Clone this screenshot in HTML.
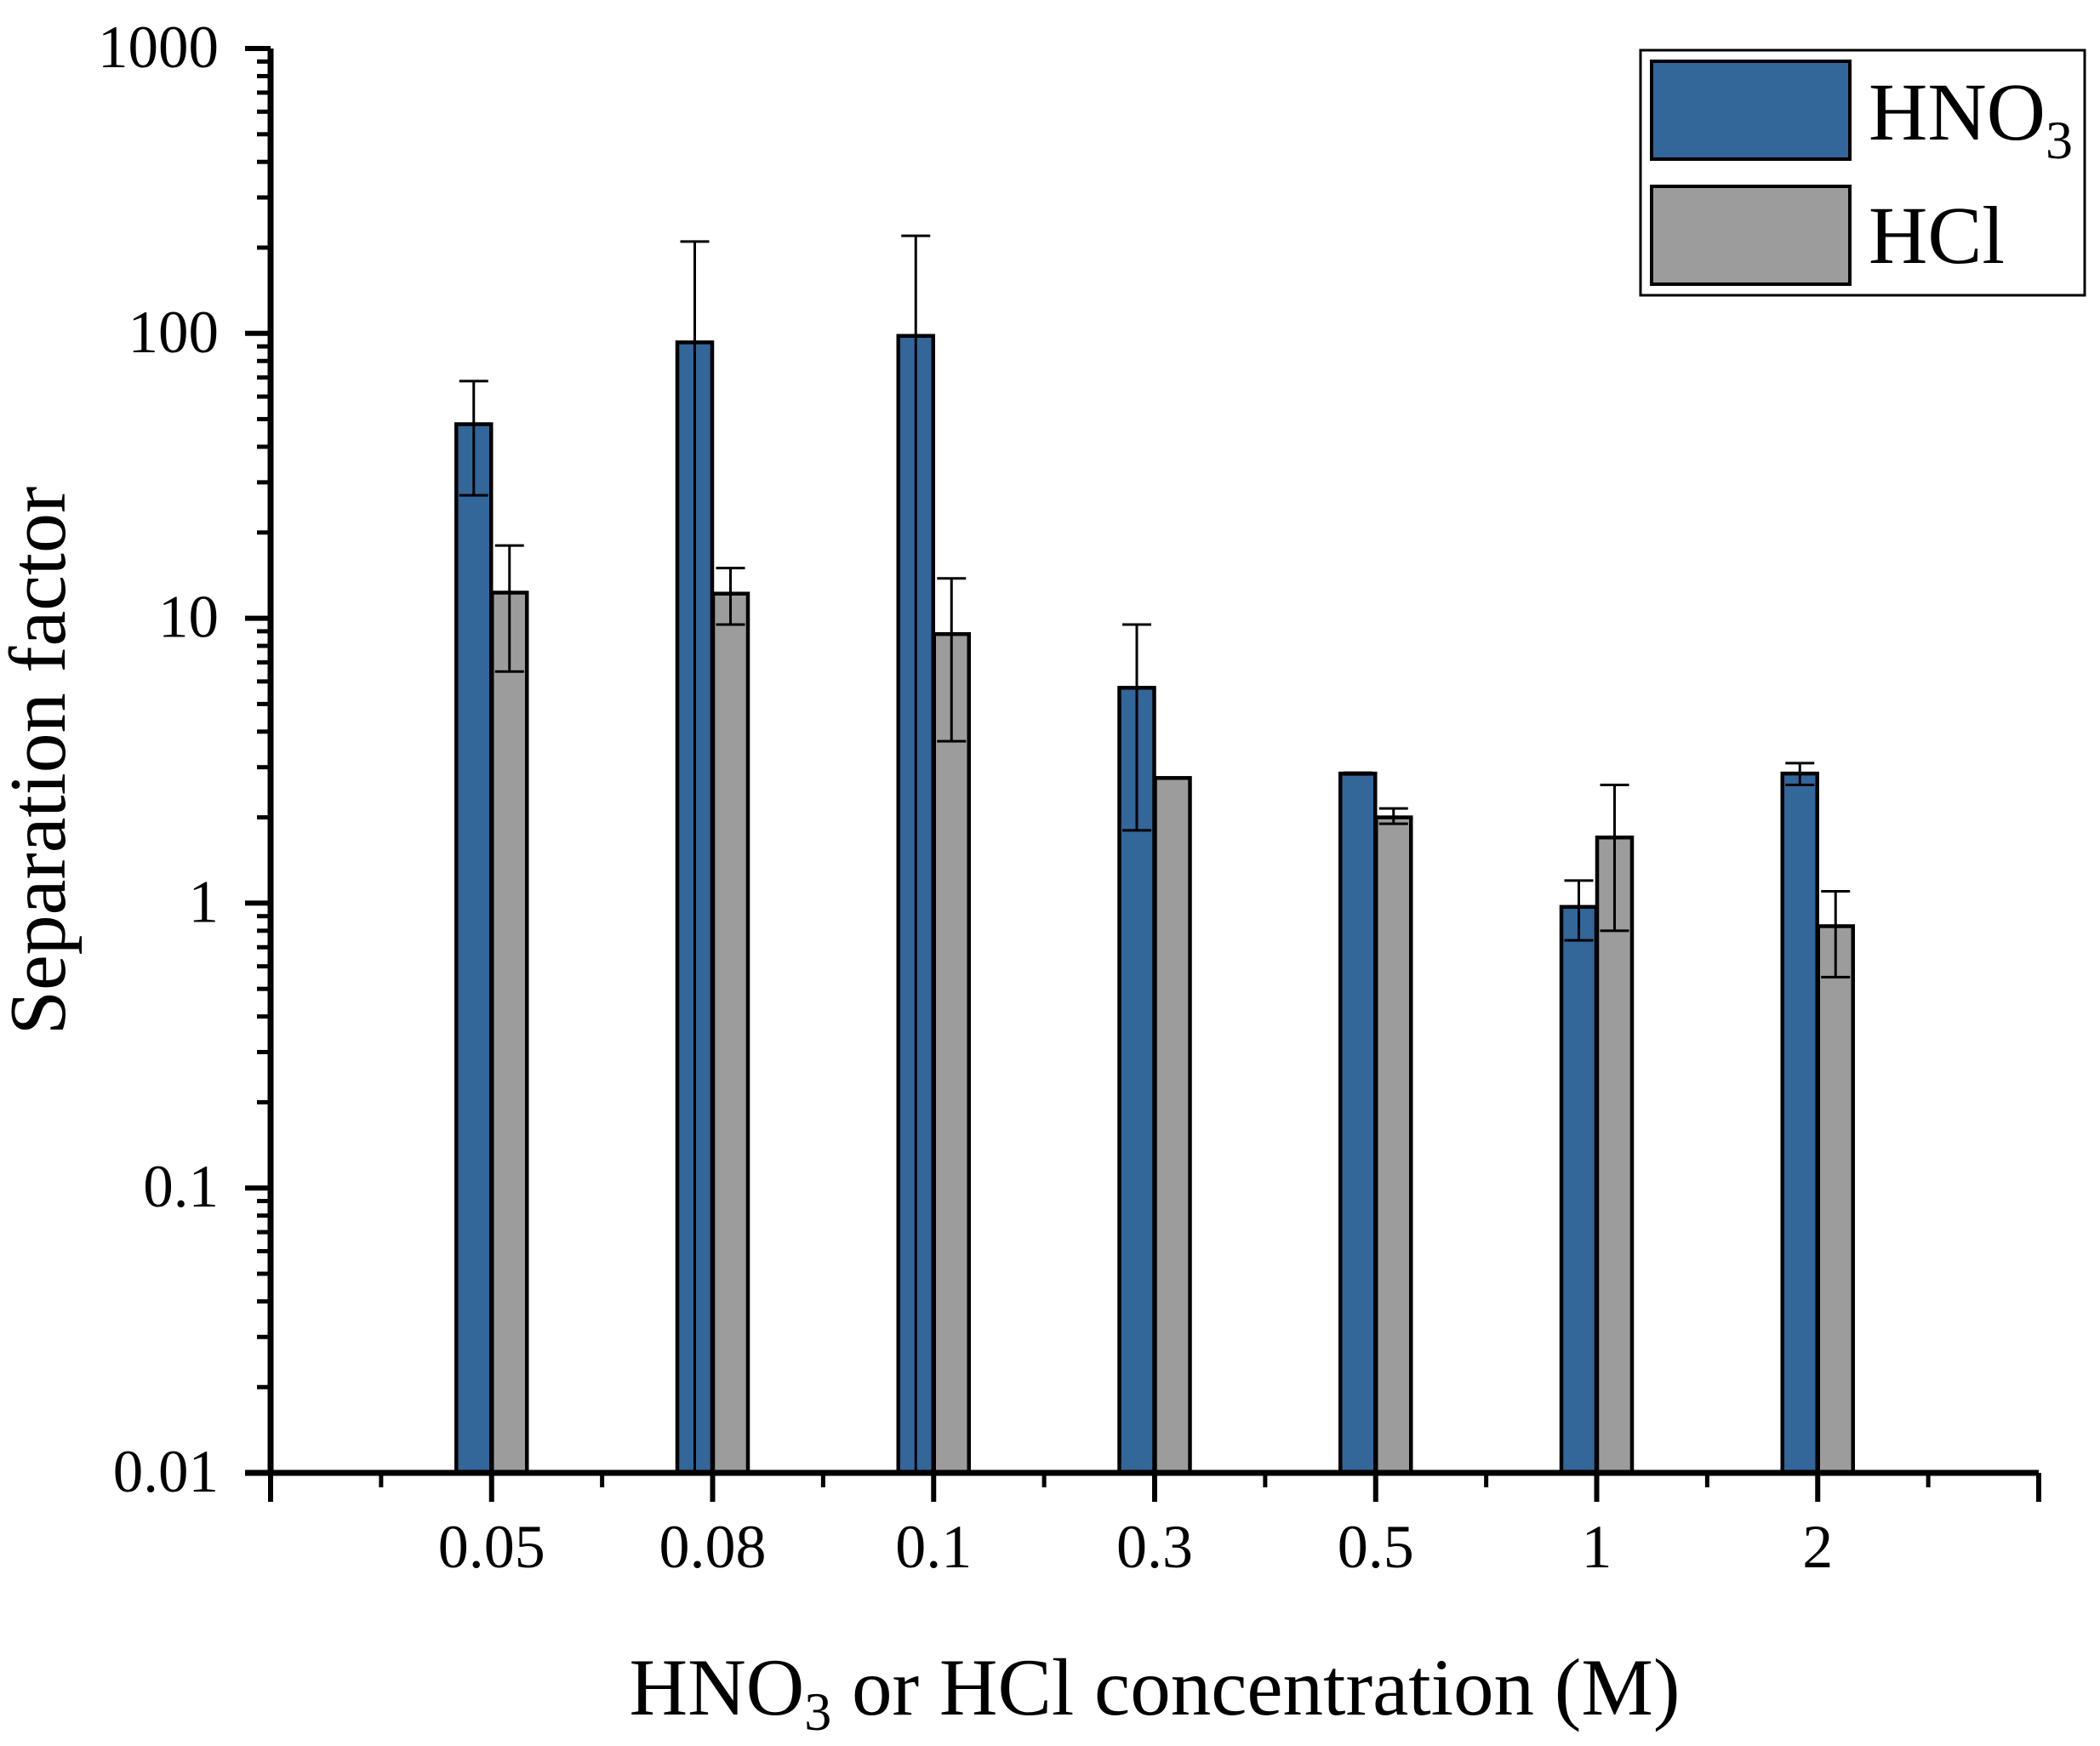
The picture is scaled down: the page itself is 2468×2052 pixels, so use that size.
<!DOCTYPE html>
<html><head><meta charset="utf-8"><style>
html,body{margin:0;padding:0;background:#fff;}
svg{display:block;font-family:"Liberation Serif",serif;}
</style></head><body>
<svg id="chart" width="2468" height="2052" viewBox="0 0 2468 2052" xmlns="http://www.w3.org/2000/svg">
<g id="plot"></g>
<g id="axes"></g>
<text transform="translate(76,894) rotate(-90)" text-anchor="middle" font-size="94">Separation factor</text>
<text x="1357" y="2015" text-anchor="middle" font-size="95">HNO<tspan font-size="64" dy="18">3</tspan><tspan dy="-18"> or HCl concentration (M)</tspan></text>
<g>
<rect x="1928" y="59" width="522" height="288" fill="#fff" stroke="#000" stroke-width="3"/>
<rect x="1941" y="72" width="233" height="115" fill="#336699" stroke="#000" stroke-width="4"/>
<text x="2196" y="164" font-size="96">HNO<tspan font-size="64" dy="22">3</tspan></text>
<rect x="1941" y="219" width="233" height="115" fill="#9c9c9c" stroke="#000" stroke-width="4"/>
<text x="2196" y="309" font-size="96">HCl</text>
</g>
</svg>
<script>
const categories = ["0.05","0.08","0.1","0.3","0.5","1","2"];
const hno3 = [48, 93, 98, 5.7, 2.85, 0.97, 2.85];
const hno3Upper = [68, 210, 220, 9.5, 2.87, 1.2, 3.1];
const hno3Lower = [27, 0.01, 0.01, 1.8, 2.83, 0.74, 2.6];
const hcl = [12.3, 12.2, 8.8, 2.75, 2.0, 1.7, 0.83];
const hclUpper = [18, 15, 13.8, 2.75, 2.15, 2.6, 1.1];
const hclLower = [6.5, 9.5, 3.7, 2.75, 1.9, 0.8, 0.55];
const yTickLabels = ["0.01","0.1","1","10","100","1000"];
const yTickValues = [0.01,0.1,1,10,100,1000];

const NS = "http://www.w3.org/2000/svg";
const X0 = 318, X1 = 2396, Y0 = 1731, YT = 57;
const step = (X1 - X0) / (categories.length + 1);
function xPos(i){ return X0 + step * (i + 1); }
function yPos(v){ const lv = Math.log10(Math.max(v, 0.01)); return Y0 - (lv + 2) / 5 * (Y0 - YT); }
function mk(tag, attrs, parent){ const e = document.createElementNS(NS, tag); for (const k in attrs) e.setAttribute(k, attrs[k]); parent.appendChild(e); return e; }
const plot = document.getElementById('plot');
const axes = document.getElementById('axes');
const BW = 41;

function drawSeries(vals, up, lo, offset, fill, name){
  vals.forEach((v, i) => {
    const cx = xPos(i) + offset;
    const yt = yPos(v);
    const r = mk('rect', {x: cx - BW/2, y: yt, width: BW, height: Y0 - yt, fill: fill, stroke: '#000', 'stroke-width': 4.5}, plot);
    
    
    const yu = yPos(up[i]), yl = yPos(lo[i]);
    const g = mk('g', {stroke: '#000', 'stroke-width': 3}, plot);
    
    
    mk('line', {x1: cx, x2: cx, y1: yu, y2: yl}, g);
    mk('line', {x1: cx - 17, x2: cx + 17, y1: yu, y2: yu}, g);
    if (lo[i] > 0.01) mk('line', {x1: cx - 17, x2: cx + 17, y1: yl, y2: yl}, g);
  });
}
drawSeries(hno3, hno3Upper, hno3Lower, -21, '#336699', 'hno3');
drawSeries(hcl, hclUpper, hclLower, 21, '#9c9c9c', 'hcl');

let l = mk('line', {x1: X0, x2: X0, y1: YT, y2: Y0 + 3, stroke: '#000', 'stroke-width': 7}, axes);


l = mk('line', {x1: X0 - 30, x2: X1, y1: Y0, y2: Y0, stroke: '#000', 'stroke-width': 7}, axes);



yTickValues.forEach((v, k) => {
  const y = yPos(v);
  const t = mk('line', {x1: X0 - 30, x2: X0, y1: y, y2: y, stroke: '#000', 'stroke-width': 6}, axes);
  
  
  const tx = mk('text', {x: 257, y: y + 22, 'text-anchor': 'end', 'font-size': 71}, axes);
  
  
  tx.textContent = yTickLabels[k];
  if (k < yTickValues.length - 1) {
    for (let m = 2; m <= 9; m++) {
      const ym = yPos(v * m);
      const mt = mk('line', {x1: X0 - 16, x2: X0, y1: ym, y2: ym, stroke: '#000', 'stroke-width': 5}, axes);
      
      
    }
  }
});

for (let j = 0; j <= categories.length + 1; j++) {
  const x = X0 + step * j;
  const t = mk('line', {x1: x, x2: x, y1: Y0, y2: Y0 + 34, stroke: '#000', 'stroke-width': 6}, axes);
  
  
  if (j <= categories.length) {
    const xm = x + step / 2;
    const mt = mk('line', {x1: xm, x2: xm, y1: Y0, y2: Y0 + 17, stroke: '#000', 'stroke-width': 5}, axes);
    
    
  }
}
categories.forEach((c, i) => {
  const tx = mk('text', {x: xPos(i), y: 1842, 'text-anchor': 'middle', 'font-size': 72}, axes);
  
  
  tx.textContent = c;
});
</script>
</body></html>
